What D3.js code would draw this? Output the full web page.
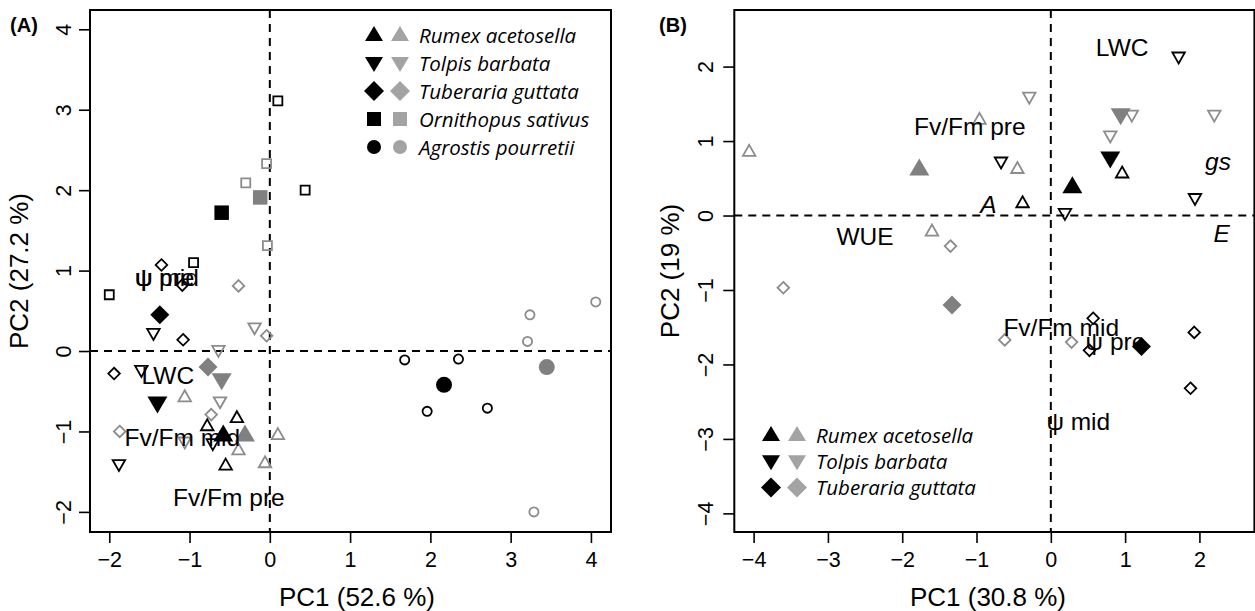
<!DOCTYPE html>
<html><head><meta charset="utf-8">
<script src="https://cdn.jsdelivr.net/npm/d3@7"></script>
<style>body{margin:0;background:#fff}svg{display:block}</style>
</head><body>
<svg id="c" width="1255" height="611"></svg>
<script>
// ---------- DATA ----------
const speciesA = ["Rumex acetosella","Tolpis barbata","Tuberaria guttata","Ornithopus sativus","Agrostis pourretii"];
const speciesB = ["Rumex acetosella","Tolpis barbata","Tuberaria guttata"];
const shapes = ["triUp","triDown","diamond","square","circle"];

// Panel A points: species index, kind (bm=black mean, gm=grey mean, bo=black sample, go=grey sample)
const A_sp   = [3,3,3,3,3,3,3,3,3, 2,2,2,2,2,2,2,2,2,2, 1,1,1,1,1,1,1,1,1,1, 0,0,0,0,0,0,0,0,0, 4,4,4,4,4,4,4,4,4,4];
const A_kind = ["bo","go","go","gm","bo","bm","go","bo","bo",
                "bo","bo","go","bm","bo","go","bo","gm","go","go",
                "bo","go","go","bo","gm","bm","go","bo","go","bo",
                "go","bo","bo","bm","gm","go","go","go","bo",
                "go","go","go","go","bo","bo","bo","bo","gm","bm"];
const A_x = [0.10,-0.04,-0.30,-0.12,0.44,-0.60,-0.03,-0.95,-2.00,
             -1.35,-1.09,-0.39,-1.37,-1.08,-0.04,-1.94,-0.77,-0.73,-1.87,
             -1.45,-0.19,-0.64,-1.60,-0.60,-1.40,-0.62,-0.71,-1.06,-1.88,
             -1.06,-0.41,-0.78,-0.58,-0.31,0.10,-0.39,-0.06,-0.55,
             4.06,3.24,3.21,3.29,1.68,2.35,1.96,2.71,3.45,2.17];
const A_y = [3.11,2.33,2.09,1.91,2.00,1.72,1.31,1.10,0.70,
             1.07,0.82,0.81,0.45,0.14,0.19,-0.28,-0.20,-0.79,-1.00,
             0.22,0.29,0.01,-0.24,-0.36,-0.65,-0.63,-1.15,-1.13,-1.41,
             -0.57,-0.83,-0.93,-1.04,-1.04,-1.04,-1.23,-1.39,-1.42,
             0.61,0.45,0.12,-2.00,-0.11,-0.10,-0.75,-0.71,-0.20,-0.42];

// Panel B points
const B_sp   = [0,0,0,0,0,0,0,0, 1,1,1,1,1,1,1,1,1,1, 2,2,2,2,2,2,2,2,2,2];
const B_kind = ["go","gm","go","go","go","bo","bm","bo",
                "bo","go","gm","go","go","go","bo","bm","bo","bo",
                "go","go","gm","bo","go","go","bo","bm","bo","bo"];
const B_x = [-4.06,-1.77,-0.96,-1.60,-0.45,0.96,0.29,-0.38,
             1.72,-0.29,0.94,1.09,2.20,0.80,-0.67,0.80,1.94,0.19,
             -1.35,-3.60,-1.33,0.57,-0.62,0.28,0.52,1.22,1.93,1.88];
const B_y = [0.86,0.63,1.29,-0.21,0.63,0.57,0.39,0.17,
             2.13,1.59,1.35,1.35,1.35,1.07,0.72,0.77,0.23,0.03,
             -0.41,-0.97,-1.20,-1.38,-1.67,-1.70,-1.81,-1.76,-1.57,-2.32];

// Variable labels (loadings positions)
const A_labels = ["ψ pre","ψ mid","LWC","Fv/Fm mid","Fv/Fm pre"];
const A_lx = [-1.31,-1.28,-1.27,-1.09,-0.51];
const A_ly = [0.92,0.92,-0.30,-1.07,-1.82];
const A_lital = [false,false,false,false,false];

const B_labels = ["LWC","Fv/Fm pre","A","gs","E","WUE","Fv/Fm mid","ψ pre","ψ mid"];
const B_lx = [0.96,-1.09,-0.84,2.25,2.30,-2.50,0.14,0.87,0.37];
const B_ly = [2.25,1.20,0.15,0.73,-0.24,-0.28,-1.51,-1.69,-2.77];
const B_lital = [false,false,true,true,true,false,false,false,false];

// Axes
const A_xticks = [-2,-1,0,1,2,3,4];
const A_yticks = [-2,-1,0,1,2,3,4];
const B_xticks = [-4,-3,-2,-1,0,1,2];
const B_yticks = [-4,-3,-2,-1,0,1,2];
const A_xlim = [-2.24,4.25], A_ylim = [-2.25,4.24];
const B_xlim = [-4.26,2.74], B_ylim = [-4.25,2.76];
const A_xtitle = "PC1 (52.6 %)", A_ytitle = "PC2 (27.2 %)";
const B_xtitle = "PC1 (30.8 %)", B_ytitle = "PC2 (19 %)";

// ---------- DRAW ----------
const svg = d3.select("#c");
const FONT = "'Liberation Sans', Arial, sans-serif";
const GREY_FILL = "#808080", GREY_LINE = "#8c8c8c", GREY_LEG = "#a3a3a3";
const fmt = d => (d < 0 ? "\u2212" + Math.abs(d) : String(d));

function shapePath(shape, size) {
  const p = d3.path();
  if (shape === "triUp" || shape === "triDown") {
    const w = size.w, h = size.h, s = shape === "triUp" ? 1 : -1;
    p.moveTo(0, -0.6 * h * s); p.lineTo(w / 2, 0.4 * h * s); p.lineTo(-w / 2, 0.4 * h * s); p.closePath();
  } else if (shape === "diamond") {
    const r = size.r; p.moveTo(0, -r); p.lineTo(r, 0); p.lineTo(0, r); p.lineTo(-r, 0); p.closePath();
  } else if (shape === "square") {
    const s = size.s / 2; p.rect(-s, -s, 2 * s, 2 * s);
  } else {
    const r = size.r; p.moveTo(r, 0); p.arc(0, 0, r, 0, 2 * Math.PI);
  }
  return p.toString();
}
const filledSize = {triUp:{w:20,h:17}, triDown:{w:20,h:17}, diamond:{r:9.5}, square:{s:14.5}, circle:{r:8}};
const openSize   = {triUp:{w:12.5,h:11}, triDown:{w:12.5,h:11}, diamond:{r:5.8}, square:{s:9}, circle:{r:4.6}};
const legSize    = {triUp:{w:18,h:15}, triDown:{w:18,h:15}, diamond:{r:10}, square:{s:14}, circle:{r:7}};

function panel(cfg) {
  const x = d3.scaleLinear().domain(cfg.xlim).range([cfg.left, cfg.right]);
  const y = d3.scaleLinear().domain(cfg.ylim).range([cfg.bottom, cfg.top]);
  const g = svg.append("g");

  // axes
  const ax = g.append("g").attr("transform", `translate(0,${cfg.bottom})`)
    .call(d3.axisBottom(x).tickValues(cfg.xticks).tickSize(11).tickPadding(6).tickFormat(fmt));
  ax.select(".domain").remove();
  ax.selectAll("line").attr("stroke", "#000").attr("stroke-width", 1.6);
  ax.selectAll("text").attr("font-family", FONT).attr("font-size", 21.5).attr("fill", "#000")
    .attr("dy", null).attr("y", 28).attr("dominant-baseline", "central");

  const ay = g.append("g").attr("transform", `translate(${cfg.left},0)`)
    .call(d3.axisLeft(y).tickValues(cfg.yticks).tickSize(11).tickFormat(fmt));
  ay.select(".domain").remove();
  ay.selectAll("line").attr("stroke", "#000").attr("stroke-width", 1.6);
  ay.selectAll("text").attr("font-family", FONT).attr("font-size", 21.5).attr("fill", "#000")
    .attr("x", null).attr("dy", null).attr("text-anchor", "middle").attr("dominant-baseline", "central")
    .attr("transform", `translate(${-cfg.ylabOff},0) rotate(-90)`);

  // reference lines
  g.append("line").attr("x1", x(0)).attr("x2", x(0)).attr("y1", cfg.top).attr("y2", cfg.bottom)
    .attr("stroke", "#000").attr("stroke-width", 2).attr("stroke-dasharray", "8,6");
  g.append("line").attr("x1", cfg.left).attr("x2", cfg.right).attr("y1", y(0)).attr("y2", y(0))
    .attr("stroke", "#000").attr("stroke-width", 2).attr("stroke-dasharray", "8,6");

  // points: samples first, then means
  const pts = cfg.px.map((v, i) => ({x: v, y: cfg.py[i], sp: cfg.sp[i], kind: cfg.kind[i]}));
  const order = {bo: 0, go: 0, gm: 1, bm: 1};
  pts.sort((a, b) => order[a.kind] - order[b.kind]);
  g.append("g").selectAll("path").data(pts).join("path")
    .attr("transform", d => `translate(${x(d.x)},${y(d.y)})`)
    .attr("d", d => shapePath(shapes[d.sp], (d.kind === "bm" || d.kind === "gm") ? filledSize[shapes[d.sp]] : openSize[shapes[d.sp]]))
    .attr("fill", d => d.kind === "bm" ? "#000" : d.kind === "gm" ? GREY_FILL : "none")
    .attr("stroke", d => d.kind === "bo" ? "#000" : d.kind === "go" ? GREY_LINE : "none")
    .attr("stroke-width", 1.8);

  // variable labels
  g.append("g").selectAll("text").data(cfg.labels).join("text")
    .attr("x", (d, i) => x(cfg.lx[i])).attr("y", (d, i) => y(cfg.ly[i]))
    .attr("text-anchor", "middle").attr("dominant-baseline", "central")
    .attr("font-family", FONT).attr("font-size", 24.5)
    .attr("font-style", (d, i) => cfg.lital[i] ? "italic" : "normal")
    .text(d => d);

  // box
  g.append("rect").attr("x", cfg.left).attr("y", cfg.top)
    .attr("width", cfg.right - cfg.left).attr("height", cfg.bottom - cfg.top)
    .attr("fill", "none").attr("stroke", "#000").attr("stroke-width", 2);

  // titles
  g.append("text").attr("x", cfg.xtX).attr("y", 597).attr("text-anchor", "middle")
    .attr("dominant-baseline", "central").attr("font-family", FONT).attr("font-size", 26).text(cfg.xtitle);
  g.append("text").attr("transform", `translate(${cfg.ytX},${(cfg.top + cfg.bottom) / 2}) rotate(-90)`)
    .attr("text-anchor", "middle").attr("dominant-baseline", "central")
    .attr("font-family", FONT).attr("font-size", 26).text(cfg.ytitle);
  g.append("text").attr("x", cfg.tagX).attr("y", 25).attr("text-anchor", "middle")
    .attr("dominant-baseline", "central").attr("font-family", FONT).attr("font-weight", "bold")
    .attr("font-size", 20).text(cfg.tag);

  // legend
  const lg = g.append("g");
  cfg.legNames.forEach((name, i) => {
    const yy = cfg.legY0 + i * cfg.legDy;
    const sh = shapes[i];
    lg.append("path").attr("transform", `translate(${cfg.legX1},${yy})`)
      .attr("d", shapePath(sh, legSize[sh])).attr("fill", "#000");
    lg.append("path").attr("transform", `translate(${cfg.legX2},${yy})`)
      .attr("d", shapePath(sh, legSize[sh])).attr("fill", GREY_LEG);
    lg.append("text").attr("x", cfg.legTX).attr("y", yy).attr("dominant-baseline", "central")
      .attr("font-family", "'Open Sans', 'Noto Sans', sans-serif").attr("font-style", "italic")
      .attr("font-size", 20.5).text(name);
  });
}

panel({left: 90, right: 611, top: 10, bottom: 532, xlim: A_xlim, ylim: A_ylim,
  xticks: A_xticks, yticks: A_yticks, ylabOff: 26,
  px: A_x, py: A_y, sp: A_sp, kind: A_kind,
  labels: A_labels, lx: A_lx, ly: A_ly, lital: A_lital,
  xtitle: A_xtitle, ytitle: A_ytitle, xtX: 357, ytX: 19, tag: "(A)", tagX: 24,
  legNames: speciesA, legX1: 374, legX2: 400, legTX: 419, legY0: 35, legDy: 28});

panel({left: 734.3, right: 1254.4, top: 10, bottom: 532, xlim: B_xlim, ylim: B_ylim,
  xticks: B_xticks, yticks: B_yticks, ylabOff: 28,
  px: B_x, py: B_y, sp: B_sp, kind: B_kind,
  labels: B_labels, lx: B_lx, ly: B_ly, lital: B_lital,
  xtitle: B_xtitle, ytitle: B_ytitle, xtX: 988, ytX: 670, tag: "(B)", tagX: 673,
  legNames: speciesB, legX1: 771, legX2: 797, legTX: 816, legY0: 435, legDy: 26.2});
</script>
</body></html>
